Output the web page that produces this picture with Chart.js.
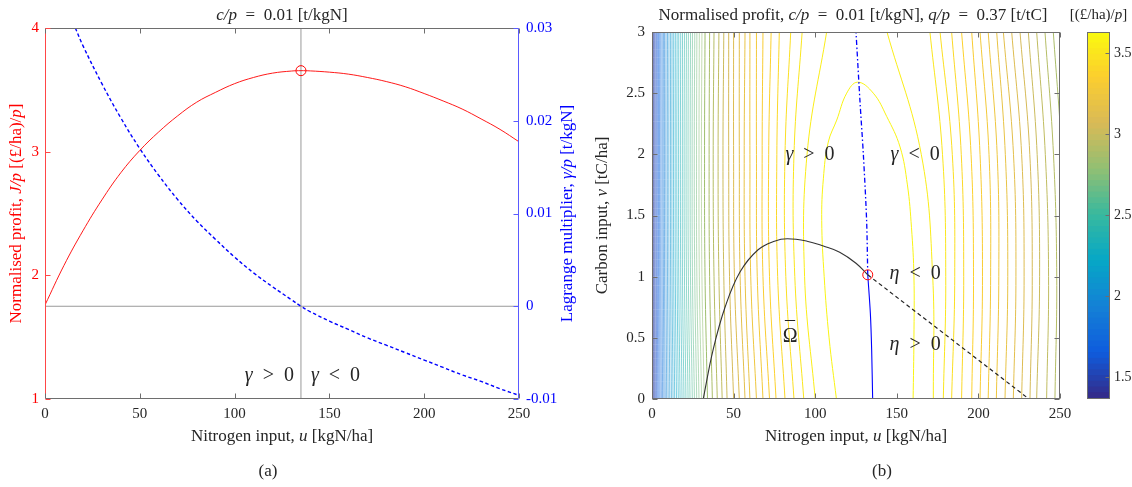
<!DOCTYPE html>
<html><head><meta charset="utf-8">
<script src="https://cdn.jsdelivr.net/npm/chart.js@4.4.1/dist/chart.umd.min.js"></script>
<style>
html,body{margin:0;padding:0;background:#fff;}
#wrap{position:relative;width:1132px;height:487px;overflow:hidden;background:#fff;}
canvas{position:absolute;top:0;}
#c1{left:0;} #c2{left:580px;} #c3{left:1062px;}
</style></head><body>
<div id="wrap">
<canvas id="c1" width="580" height="487"></canvas>
<canvas id="c2" width="500" height="487"></canvas>
<canvas id="c3" width="70" height="487"></canvas>
</div>
<script>
// ---------------- DATA: panel (a) ----------------
const uProfit = [0,10,20,30,40,50,60,70,80,90,100,110,120,130,135,140,150,160,170,180,190,200,210,220,230,240,250];
const profitJ = [1.76,2.08,2.36,2.61,2.83,3.01,3.16,3.29,3.40,3.48,3.55,3.60,3.635,3.652,3.655,3.653,3.643,3.627,3.60,3.567,3.525,3.47,3.41,3.345,3.265,3.18,3.08];
const uGamma = [16,20,30,40,50,60,70,80,90,100,110,120,130,135,140,150,160,170,180,190,200,210,220,230,240,250];
const gammaP = [0.0300,0.0281,0.0240,0.0203,0.0170,0.0141,0.0115,0.0092,0.0072,0.0053,0.0036,0.0021,0.0007,0.0000,-0.0006,-0.0016,-0.0025,-0.0034,-0.0042,-0.0050,-0.0058,-0.0066,-0.0074,-0.0081,-0.0089,-0.0096];
const optimumU = 135, optimumJ = 3.655;
const refJ = 1.75;           // horizontal reference (gamma = 0)
const xTicks = [0,50,100,150,200,250];
const jTicks = [1,2,3,4];
const gTicks = [-0.01,0,0.01,0.02,0.03];

// ---------------- DATA: panel (b) ----------------
const vTicks = [0,0.5,1,1.5,2,2.5,3];
const cbTicks = [1.5,2,2.5,3,3.5];
const cbMin = 1.364, cbMax = 3.63;
const sampleV = [0,1,2,3];
const contourLevels = [3.586,3.541,3.497,3.452,3.408,3.363,3.319,3.275,3.230,3.186,3.141,3.097,3.053,3.008,2.964,2.919,2.875,2.830,2.786,2.741,2.697,2.653,2.608,2.564,2.519,2.475,2.431,2.386,2.342,2.297,2.253,2.208,2.164,2.119,2.075,2.031,1.986,1.942,1.897,1.853,1.808,1.764,1.720,1.675,1.631,1.586,1.542,1.497,1.453,1.408];
const leftUAtV0 = [null,100,93,87,81.5,76,72,68,64,60,57,53.5,50,46,43,40,37,34,32.0,30.4,28.8,27.4,26.0,24.7,23.3,22.1,20.8,19.6,18.4,17.2,16.1,15.0,13.9,12.9,11.9,10.9,9.9,9.0,8.1,7.3,6.5,5.7,4.9,4.2,3.5,2.8,2.1,1.5,0.95,0.4];
const leftUAtV1 = [null,93.5,87.5,82,77,72,68,64.5,60.5,57,54,50.5,47.5,44,41,38,35.3,32.5,30.6,29.0,27.5,26.2,24.8,23.6,22.3,21.1,19.9,18.7,17.6,16.4,15.4,14.3,13.3,12.3,11.4,10.4,9.5,8.6,7.7,7.0,6.2,5.4,4.7,4.0,3.3,2.7,2.0,1.45,0.9,0.4];
const leftUAtV2 = [null,95,87,81.5,76.5,71.5,67.5,64,60,56.5,53.5,50,47,43.5,40.5,37.5,35,32.2,30.3,28.8,27.3,25.9,24.6,23.4,22.1,20.9,19.7,18.6,17.4,16.3,15.2,14.2,13.2,12.2,11.3,10.3,9.4,8.5,7.7,6.9,6.2,5.4,4.6,4.0,3.3,2.65,2.0,1.4,0.9,0.4];
const leftUAtV3 = [null,107,92,85,78,73,68,64,60,57,53.5,50,47,44,41,38,35.3,32.5,30.6,29.0,27.5,26.2,24.8,23.6,22.3,21.1,19.9,18.7,17.6,16.4,15.4,14.3,13.3,12.3,11.4,10.4,9.5,8.6,7.7,7.0,6.2,5.4,4.7,4.0,3.3,2.7,2.0,1.45,0.9,0.4];
const rightUAtV0 = [null,172.4,178.5,183.6,189.7,195.9,201,206,211,216.3,221.4,226.5,231.6,235.7,241.8,246.9,252,257];
const rightUAtV1 = [null,172,180,185.5,191,197,202.5,207.5,212.5,218,223,228,233,237.5,243,248,253,258];
const rightUAtV2 = [null,165,178,184,189.5,195.5,201,206.5,211.5,216.5,221.5,226.5,231.5,236,241,246,251,256];
const rightUAtV3 = [null,144,170.3,176.5,183.6,189.7,195.9,201,206,211.2,215.3,220.4,225.5,230.6,235.7,240.8,245.9,250];
const archU = [113,108.5,105.5,104,105,108,113.2,119.3,126,135.6,143.8,152,156.5,159,160.5,160.5,160];
const archV = [0,0.5,1.0,1.46,1.8,2.1,2.28,2.5,2.59,2.5,2.31,2.06,1.75,1.4,1.0,0.5,0];
const constraintU = [31.4,37.4,45,54,65,75,83,95,105,115,125,132.2];
const constraintV = [0,0.40,0.76,1.04,1.22,1.29,1.31,1.29,1.25,1.20,1.11,1.015];
const boundaryDashU = [132.2,231];
const boundaryDashV = [1.015,0];
const gammaZeroLowU = [135.2,134.6,133.8,132.2];
const gammaZeroLowV = [0,0.4,0.7,1.015];
const gammaZeroHighU = [132.2,131.5,129.5,127.5,125];
const gammaZeroHighV = [1.015,1.46,2.0,2.42,3.0];
const optimumU2 = 132.2, optimumV2 = 1.015;

// ---------------- helpers ----------------
const SERIF = '"Liberation Serif", "Times New Roman", serif';
Chart.defaults.font.family = SERIF;
const PARULA = ['#352a87','#0f5cdd','#1481d6','#06a7c6','#38b99e','#92bf73','#d9ba56','#fcce2e','#f9fb0e'];
function hexRgb(h){return [parseInt(h.substr(1,2),16),parseInt(h.substr(3,2),16),parseInt(h.substr(5,2),16)];}
function parula(f){
  f=Math.max(0,Math.min(1,f)); const n=PARULA.length-1;
  const i=Math.min(n-1,Math.floor(f*n)); const t=f*n-i;
  const a=hexRgb(PARULA[i]), b=hexRgb(PARULA[i+1]);
  return 'rgb('+a.map((c,j)=>Math.round(c+(b[j]-c)*t)).join(',')+')';
}
function pts(us,vs){return us.map((u,i)=>({x:u,y:vs[i]}));}
function line(ctx,x1,y1,x2,y2,col){ctx.strokeStyle=col;ctx.beginPath();ctx.moveTo(x1,y1);ctx.lineTo(x2,y2);ctx.stroke();}
function richText(ctx,segs,x,y,size,color,align,rot){
  ctx.save(); ctx.translate(x,y); ctx.rotate(rot||0);
  ctx.fillStyle=color; ctx.textBaseline='middle'; ctx.textAlign='left';
  const fonts=segs.map(s=>(s[1]?'italic ':'')+size+'px '+SERIF);
  const w=segs.map((s,i)=>{ctx.font=fonts[i];return ctx.measureText(s[0]).width;});
  const tot=w.reduce((a,b)=>a+b,0);
  let cx = align==='right'?-tot:(align==='left'?0:-tot/2);
  segs.forEach((s,i)=>{ctx.font=fonts[i];ctx.fillText(s[0],cx,0);cx+=w[i];});
  ctx.restore();
}
const EQ='\u2002=\u2002';
const GRAY='#6e6e6e', RED='rgb(255,0,0)', BLUE='rgb(0,0,255)', TXT='#262626';
const fixTicks = arr => (ax => { ax.ticks = arr.map(v=>({value:v})); });
const NOGRID = {display:false, drawTicks:false};

// ---------------- chart (a) ----------------
new Chart(document.getElementById('c1'), {
  type:'scatter',
  data:{datasets:[
    {data:[{x:optimumU,y:optimumJ}], yAxisID:'yJ', pointRadius:5, pointStyle:'circle', pointBackgroundColor:'rgba(0,0,0,0)', pointBorderColor:RED, pointBorderWidth:1, showLine:false, order:0},
    {data:pts(uProfit,profitJ), yAxisID:'yJ', borderColor:'rgba(255,0,0,0.9)', borderWidth:1, pointRadius:0, showLine:true, tension:0.4, order:1},
    {data:pts(uGamma,gammaP), yAxisID:'yG', borderColor:BLUE, borderWidth:1.4, borderDash:[3.5,2.5], pointRadius:0, showLine:true, tension:0.4, order:1},
    {data:[{x:optimumU,y:1},{x:optimumU,y:4}], yAxisID:'yJ', borderColor:'#808080', borderWidth:0.8, pointRadius:0, showLine:true, order:2},
    {data:[{x:0,y:refJ},{x:250,y:refJ}], yAxisID:'yJ', borderColor:'#808080', borderWidth:0.8, pointRadius:0, showLine:true, order:2}
  ]},
  options:{
    responsive:false, animation:false, events:[],
    layout:{padding:{top:28,bottom:58,left:0,right:0}},
    plugins:{legend:{display:false},tooltip:{enabled:false}},
    scales:{
      x:{type:'linear',min:0,max:250,afterBuildTicks:fixTicks(xTicks),afterFit:s=>{s.height=30;},
         grid:NOGRID,border:{display:false},
         ticks:{color:TXT,font:{size:15},padding:6,maxRotation:0,callback:v=>String(v)}},
      yJ:{type:'linear',position:'left',min:1,max:4,afterBuildTicks:fixTicks(jTicks),afterFit:s=>{s.width=45;},
         grid:NOGRID,border:{display:false},
         ticks:{color:RED,font:{size:15},padding:6,callback:v=>String(v)}},
      yG:{type:'linear',position:'right',min:-0.01,max:0.03,afterBuildTicks:fixTicks(gTicks),afterFit:s=>{s.width=61;},
         grid:NOGRID,border:{display:false},
         ticks:{color:BLUE,font:{size:15},padding:7,callback:v=>v===0?'0':v.toFixed(2)}}
    }
  },
  plugins:[{id:'frameA',afterDraw(chart){
    const {ctx,chartArea:a,scales:s}=chart; ctx.save(); ctx.lineWidth=1;
    const L=Math.round(a.left)+0.5,R=Math.round(a.right)-0.5,T=Math.round(a.top)+0.5,B=Math.round(a.bottom)-0.5;
    line(ctx,L,T,R,T,GRAY); line(ctx,L,B,R,B,GRAY);
    line(ctx,L,T,L,B,'rgb(255,70,70)'); line(ctx,R,T,R,B,'rgb(90,90,255)');
    xTicks.forEach(v=>{const x=Math.round(s.x.getPixelForValue(v))+0.5; line(ctx,x,B,x,B-5,GRAY); line(ctx,x,T,x,T+5,GRAY);});
    jTicks.forEach(v=>{const y=Math.round(s.yJ.getPixelForValue(v))+0.5; line(ctx,L,y,L+5,y,'rgb(255,70,70)');});
    gTicks.forEach(v=>{const y=Math.round(s.yG.getPixelForValue(v))+0.5; line(ctx,R,y,R-5,y,'rgb(90,90,255)');});
    const cx=(a.left+a.right)/2;
    richText(ctx,[['c/p',1],[EQ+'0.01 [t/kgN]',0]],cx,16,17,TXT,'center');
    richText(ctx,[['Nitrogen input, ',0],['u',1],[' [kgN/ha]',0]],cx,437,17,TXT,'center');
    richText(ctx,[['Normalised profit, ',0],['J/p',1],[' [(\u00a3/ha)/',0],['p',1],[']',0]],17,(a.top+a.bottom)/2,17,RED,'center',-Math.PI/2);
    richText(ctx,[['Lagrange multiplier, ',0],['\u03b3/p',1],[' [t/kgN]',0]],568,(a.top+a.bottom)/2,17,BLUE,'center',-Math.PI/2);
    const xo=s.x.getPixelForValue(optimumU), yl=s.yJ.getPixelForValue(1.19);
    richText(ctx,[['\u03b3',1],['\u2002>\u20020',0]],xo-7,yl,20,TXT,'right');
    richText(ctx,[['\u03b3',1],['\u2002<\u20020',0]],xo+10,yl,20,TXT,'left');
    richText(ctx,[['(a)',0]],268,472,17,TXT,'center');
    ctx.restore();
  }}]
});

// ---------------- chart (b) ----------------
function contourDs(us,vs,col,w){return {data:pts(us,vs),borderColor:col,borderWidth:w,pointRadius:0,showLine:true,tension:0.4,order:10};}
const cds=[];
contourLevels.forEach((lev,k)=>{
  const col=parula((lev-cbMin)/(cbMax-cbMin));
  const w = k<18 ? 1.0 : 0.55;
  if(k===0){cds.push(contourDs(archU,archV,col,w));return;}
  if(leftUAtV0[k]!=null) cds.push(contourDs([leftUAtV0[k],leftUAtV1[k],leftUAtV2[k],leftUAtV3[k]],sampleV,col,w));
  if(rightUAtV0[k]!=null) cds.push(contourDs([rightUAtV0[k],rightUAtV1[k],rightUAtV2[k],rightUAtV3[k]],sampleV,col,w));
});
new Chart(document.getElementById('c2'), {
  type:'scatter',
  data:{datasets:[
    {data:[{x:optimumU2,y:optimumV2}], pointRadius:5, pointBackgroundColor:'rgba(0,0,0,0)', pointBorderColor:RED, pointBorderWidth:1, showLine:false, order:0},
    {data:pts(constraintU,constraintV), borderColor:'#333333', borderWidth:1.1, pointRadius:0, showLine:true, tension:0.4, order:1},
    {data:pts(boundaryDashU,boundaryDashV), borderColor:'#222222', borderWidth:1.2, borderDash:[4,3], pointRadius:0, showLine:true, order:1},
    {data:pts(gammaZeroLowU,gammaZeroLowV), borderColor:BLUE, borderWidth:1.1, pointRadius:0, showLine:true, tension:0.3, order:1},
    {data:pts(gammaZeroHighU,gammaZeroHighV), borderColor:BLUE, borderWidth:1.3, borderDash:[5,2.5,1.5,2.5], pointRadius:0, showLine:true, tension:0.3, order:1},
    ...cds
  ]},
  options:{
    responsive:false, animation:false, events:[],
    layout:{padding:{top:32,bottom:58,left:0,right:20}},
    plugins:{legend:{display:false},tooltip:{enabled:false}},
    scales:{
      x:{type:'linear',min:0,max:250,afterBuildTicks:fixTicks(xTicks),afterFit:s=>{s.height=30;},
         grid:NOGRID,border:{display:false},
         ticks:{color:TXT,font:{size:15},padding:6,maxRotation:0,callback:v=>String(v)}},
      y:{type:'linear',position:'left',min:0,max:3,afterBuildTicks:fixTicks(vTicks),afterFit:s=>{s.width=72;},
         grid:NOGRID,border:{display:false},
         ticks:{color:TXT,font:{size:15},padding:7,callback:v=>String(v)}}
    }
  },
  plugins:[{id:'frameB',afterDraw(chart){
    const {ctx,chartArea:a,scales:s}=chart; ctx.save(); ctx.lineWidth=1;
    const L=Math.round(a.left)+0.5,R=Math.round(a.right)-0.5,T=Math.round(a.top)+0.5,B=Math.round(a.bottom)-0.5;
    ctx.strokeStyle=GRAY; ctx.strokeRect(L,T,R-L,B-T);
    xTicks.forEach(v=>{const x=Math.round(s.x.getPixelForValue(v))+0.5; line(ctx,x,B,x,B-5,GRAY); line(ctx,x,T,x,T+5,GRAY);});
    vTicks.forEach(v=>{const y=Math.round(s.y.getPixelForValue(v))+0.5; line(ctx,L,y,L+5,y,GRAY); line(ctx,R,y,R-5,y,GRAY);});
    const cx=(a.left+a.right)/2;
    richText(ctx,[['Normalised profit, ',0],['c/p',1],[EQ+'0.01 [t/kgN], ',0],['q/p',1],[EQ+'0.37 [t/tC]',0]],cx-3,16,17,TXT,'center');
    richText(ctx,[['Nitrogen input, ',0],['u',1],[' [kgN/ha]',0]],cx,437,17,TXT,'center');
    richText(ctx,[['Carbon input, ',0],['v',1],[' [tC/ha]',0]],23,(a.top+a.bottom)/2,17,TXT,'center',-Math.PI/2);
    const P=(u,v)=>[s.x.getPixelForValue(u),s.y.getPixelForValue(v)];
    let p=P(96.8,2.0); richText(ctx,[['\u03b3',1],['\u2002>\u20020',0]],p[0],p[1],20,TXT,'center');
    p=P(161.2,2.0); richText(ctx,[['\u03b3',1],['\u2002<\u20020',0]],p[0],p[1],20,TXT,'center');
    p=P(161.2,1.02); richText(ctx,[['\u03b7',1],['\u2002<\u20020',0]],p[0],p[1],20,TXT,'center');
    p=P(161.2,0.44); richText(ctx,[['\u03b7',1],['\u2002>\u20020',0]],p[0],p[1],20,TXT,'center');
    p=P(84.6,0.51); richText(ctx,[['\u03a9',0]],p[0],p[1],20,TXT,'center');
    richText(ctx,[['\u00af',0]],p[0],p[1]-6,20,TXT,'center');
    richText(ctx,[['(b)',0]],302,472,17,TXT,'center');
    ctx.restore();
  }}]
});

// ---------------- colorbar ----------------
const nBands=64, bandDs=[];
for(let i=0;i<nBands;i++){
  const lo=cbMin+(cbMax-cbMin)*i/nBands, hi=cbMin+(cbMax-cbMin)*(i+1)/nBands;
  bandDs.push({data:[[lo,hi+0.004]],backgroundColor:parula((i+0.5)/nBands),borderWidth:0,grouped:false,barPercentage:1,categoryPercentage:1});
}
new Chart(document.getElementById('c3'), {
  type:'bar',
  data:{labels:['cb'],datasets:bandDs},
  options:{
    responsive:false, animation:false, events:[],
    layout:{padding:{top:32,bottom:88,left:25,right:0}},
    plugins:{legend:{display:false},tooltip:{enabled:false}},
    scales:{
      x:{display:false},
      y:{type:'linear',position:'right',min:cbMin,max:cbMax,afterBuildTicks:fixTicks(cbTicks),afterFit:s=>{s.width=22;},
         grid:NOGRID,border:{display:false},
         ticks:{color:TXT,font:{size:14},padding:4,callback:v=>String(v)}}
    }
  },
  plugins:[{id:'frameC',afterDraw(chart){
    const {ctx,chartArea:a,scales:s}=chart; ctx.save(); ctx.lineWidth=1;
    const L=Math.round(a.left)+0.5,R=Math.round(a.right)-0.5,T=Math.round(a.top)+0.5,B=Math.round(a.bottom)-0.5;
    ctx.strokeStyle=GRAY; ctx.strokeRect(L,T,R-L,B-T);
    cbTicks.forEach(v=>{const y=Math.round(s.y.getPixelForValue(v))+0.5; line(ctx,R,y,R-4,y,GRAY);});
    richText(ctx,[['[(\u00a3/ha)/',0],['p',1],[']',0]],(a.left+a.right)/2,15,15,TXT,'center');
    ctx.restore();
  }}]
});
</script>
</body></html>
